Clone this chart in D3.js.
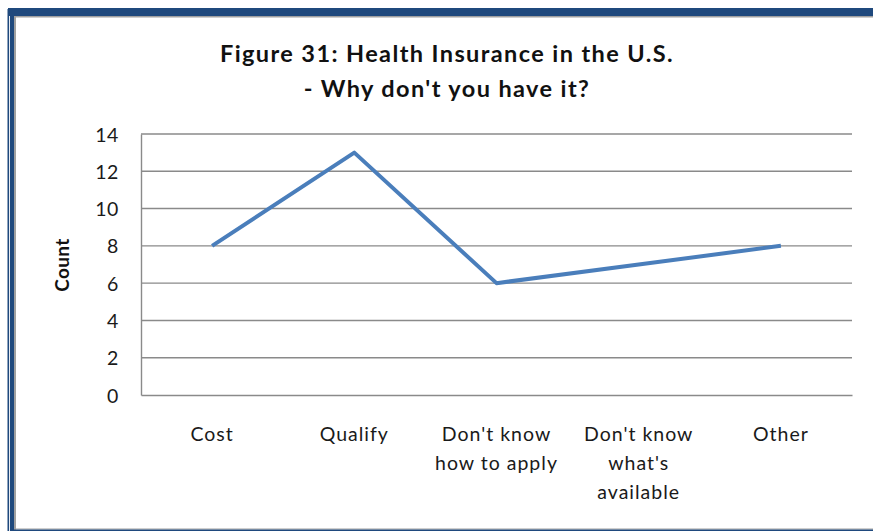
<!DOCTYPE html>
<html>
<head>
<meta charset="utf-8">
<script src="https://cdn.jsdelivr.net/npm/d3@7"></script>
<style>
  body { margin: 0; background: #fff; }
  svg text { font-family: Lato, "Open Sans", sans-serif; }
</style>
</head>
<body>
<div id="myChart"></div>
<script>
const categories = [
    ["Cost"],
    ["Qualify"],
    ["Don't know", "how to apply"],
    ["Don't know", "what's", "available"],
    ["Other"]
];
const counts = [8, 13, 6, 7, 8];
const yTicks = [0, 2, 4, 6, 8, 10, 12, 14];
const titleLines = ["Figure 31: Health Insurance in the U.S.", "- Why don't you have it?"];
const yTitle = "Count";

const w = 873;
const h = 531;
const plotLeft = 141, plotRight = 852, plotTop = 134, plotBottom = 395;

const svg = d3.select("#myChart")
    .append("svg")
    .attr("width", w)
    .attr("height", h)
    .style("display", "block");

// frame (blue double border on left, top and bottom)
svg.append("rect").attr("x", 8).attr("y", 8).attr("width", w - 8).attr("height", 8).attr("fill", "#1f497d");
svg.append("rect").attr("x", 16).attr("y", 16).attr("width", w - 16).attr("height", 1.5).attr("fill", "#a0a0a0");
svg.append("rect").attr("x", 7.5).attr("y", 9).attr("width", 1.6).attr("height", h - 9).attr("fill", "#1f497d");
svg.append("rect").attr("x", 10).attr("y", 8).attr("width", 4).attr("height", h - 8).attr("fill", "#1f497d");
svg.append("rect").attr("x", 14).attr("y", 16).attr("width", 2).attr("height", h - 16).attr("fill", "#a0a0a0");
svg.append("rect").attr("x", 14).attr("y", 528.5).attr("width", w - 14).attr("height", 1).attr("fill", "#a0a0a0");
svg.append("rect").attr("x", 10).attr("y", 529.5).attr("width", w - 10).attr("height", 1.5).attr("fill", "#1f497d");

const xScale = d3.scaleBand().domain(d3.range(categories.length)).range([plotLeft, plotRight]);
const yScale = d3.scaleLinear().domain([0, 14]).range([plotBottom, plotTop]);

// gridlines
svg.append("g")
    .selectAll("line")
    .data(yTicks.filter(d => d > 0))
    .enter()
    .append("line")
    .attr("x1", plotLeft)
    .attr("x2", plotRight)
    .attr("y1", d => yScale(d))
    .attr("y2", d => yScale(d))
    .attr("stroke", "#8a8a8a")
    .attr("stroke-width", 1.4);

// axes
const yAxis = d3.axisLeft(yScale).tickValues(yTicks).tickSize(0).tickPadding(22);
const gy = svg.append("g")
    .attr("transform", "translate(" + plotLeft + ",0)")
    .call(yAxis);
gy.select(".domain").attr("stroke", "#8a8a8a").attr("stroke-width", 1.4);
gy.selectAll("text")
    .attr("font-size", 19.5)
    .attr("letter-spacing", 0.6)
    .attr("fill", "#1a1a1a")
    .attr("dy", "0.36em");

const xAxis = d3.axisBottom(xScale).tickSize(0).tickFormat("");
const gx = svg.append("g")
    .attr("transform", "translate(0," + plotBottom + ")")
    .call(xAxis);
gx.select(".domain").attr("stroke", "#8a8a8a").attr("stroke-width", 1.4);

// category labels (multi-line)
svg.append("g")
    .selectAll("text")
    .data(categories)
    .enter()
    .append("text")
    .attr("text-anchor", "middle")
    .attr("font-size", 19.5)
    .attr("letter-spacing", 1)
    .attr("fill", "#1a1a1a")
    .attr("transform", (d, i) => "translate(" + (xScale(i) + xScale.bandwidth() / 2) + ",441)")
    .each(function(d) {
        d3.select(this).selectAll("tspan")
            .data(d)
            .enter()
            .append("tspan")
            .attr("x", 0)
            .attr("y", (t, j) => j * 29)
            .text(t => t);
    });

// line
const line = d3.line()
    .x((d, i) => xScale(i) + xScale.bandwidth() / 2)
    .y(d => yScale(d));
svg.append("path")
    .datum(counts)
    .attr("d", line)
    .attr("fill", "none")
    .attr("stroke", "#4a7ebb")
    .attr("stroke-width", 4)
    .attr("stroke-linejoin", "round");

// titles
svg.append("g")
    .selectAll("text")
    .data(titleLines)
    .enter()
    .append("text")
    .attr("x", 447)
    .attr("y", (d, i) => 62 + i * 35)
    .attr("text-anchor", "middle")
    .attr("font-size", 23.5)
    .attr("letter-spacing", 1.4)
    .attr("font-weight", "bold")
    .attr("fill", "#111")
    .text(d => d);

svg.append("text")
    .attr("transform", "translate(68.5,265) rotate(-90)")
    .attr("text-anchor", "middle")
    .attr("font-size", 19)
    .attr("letter-spacing", 0.4)
    .attr("font-weight", "bold")
    .attr("fill", "#111")
    .text(yTitle);
</script>
</body>
</html>
